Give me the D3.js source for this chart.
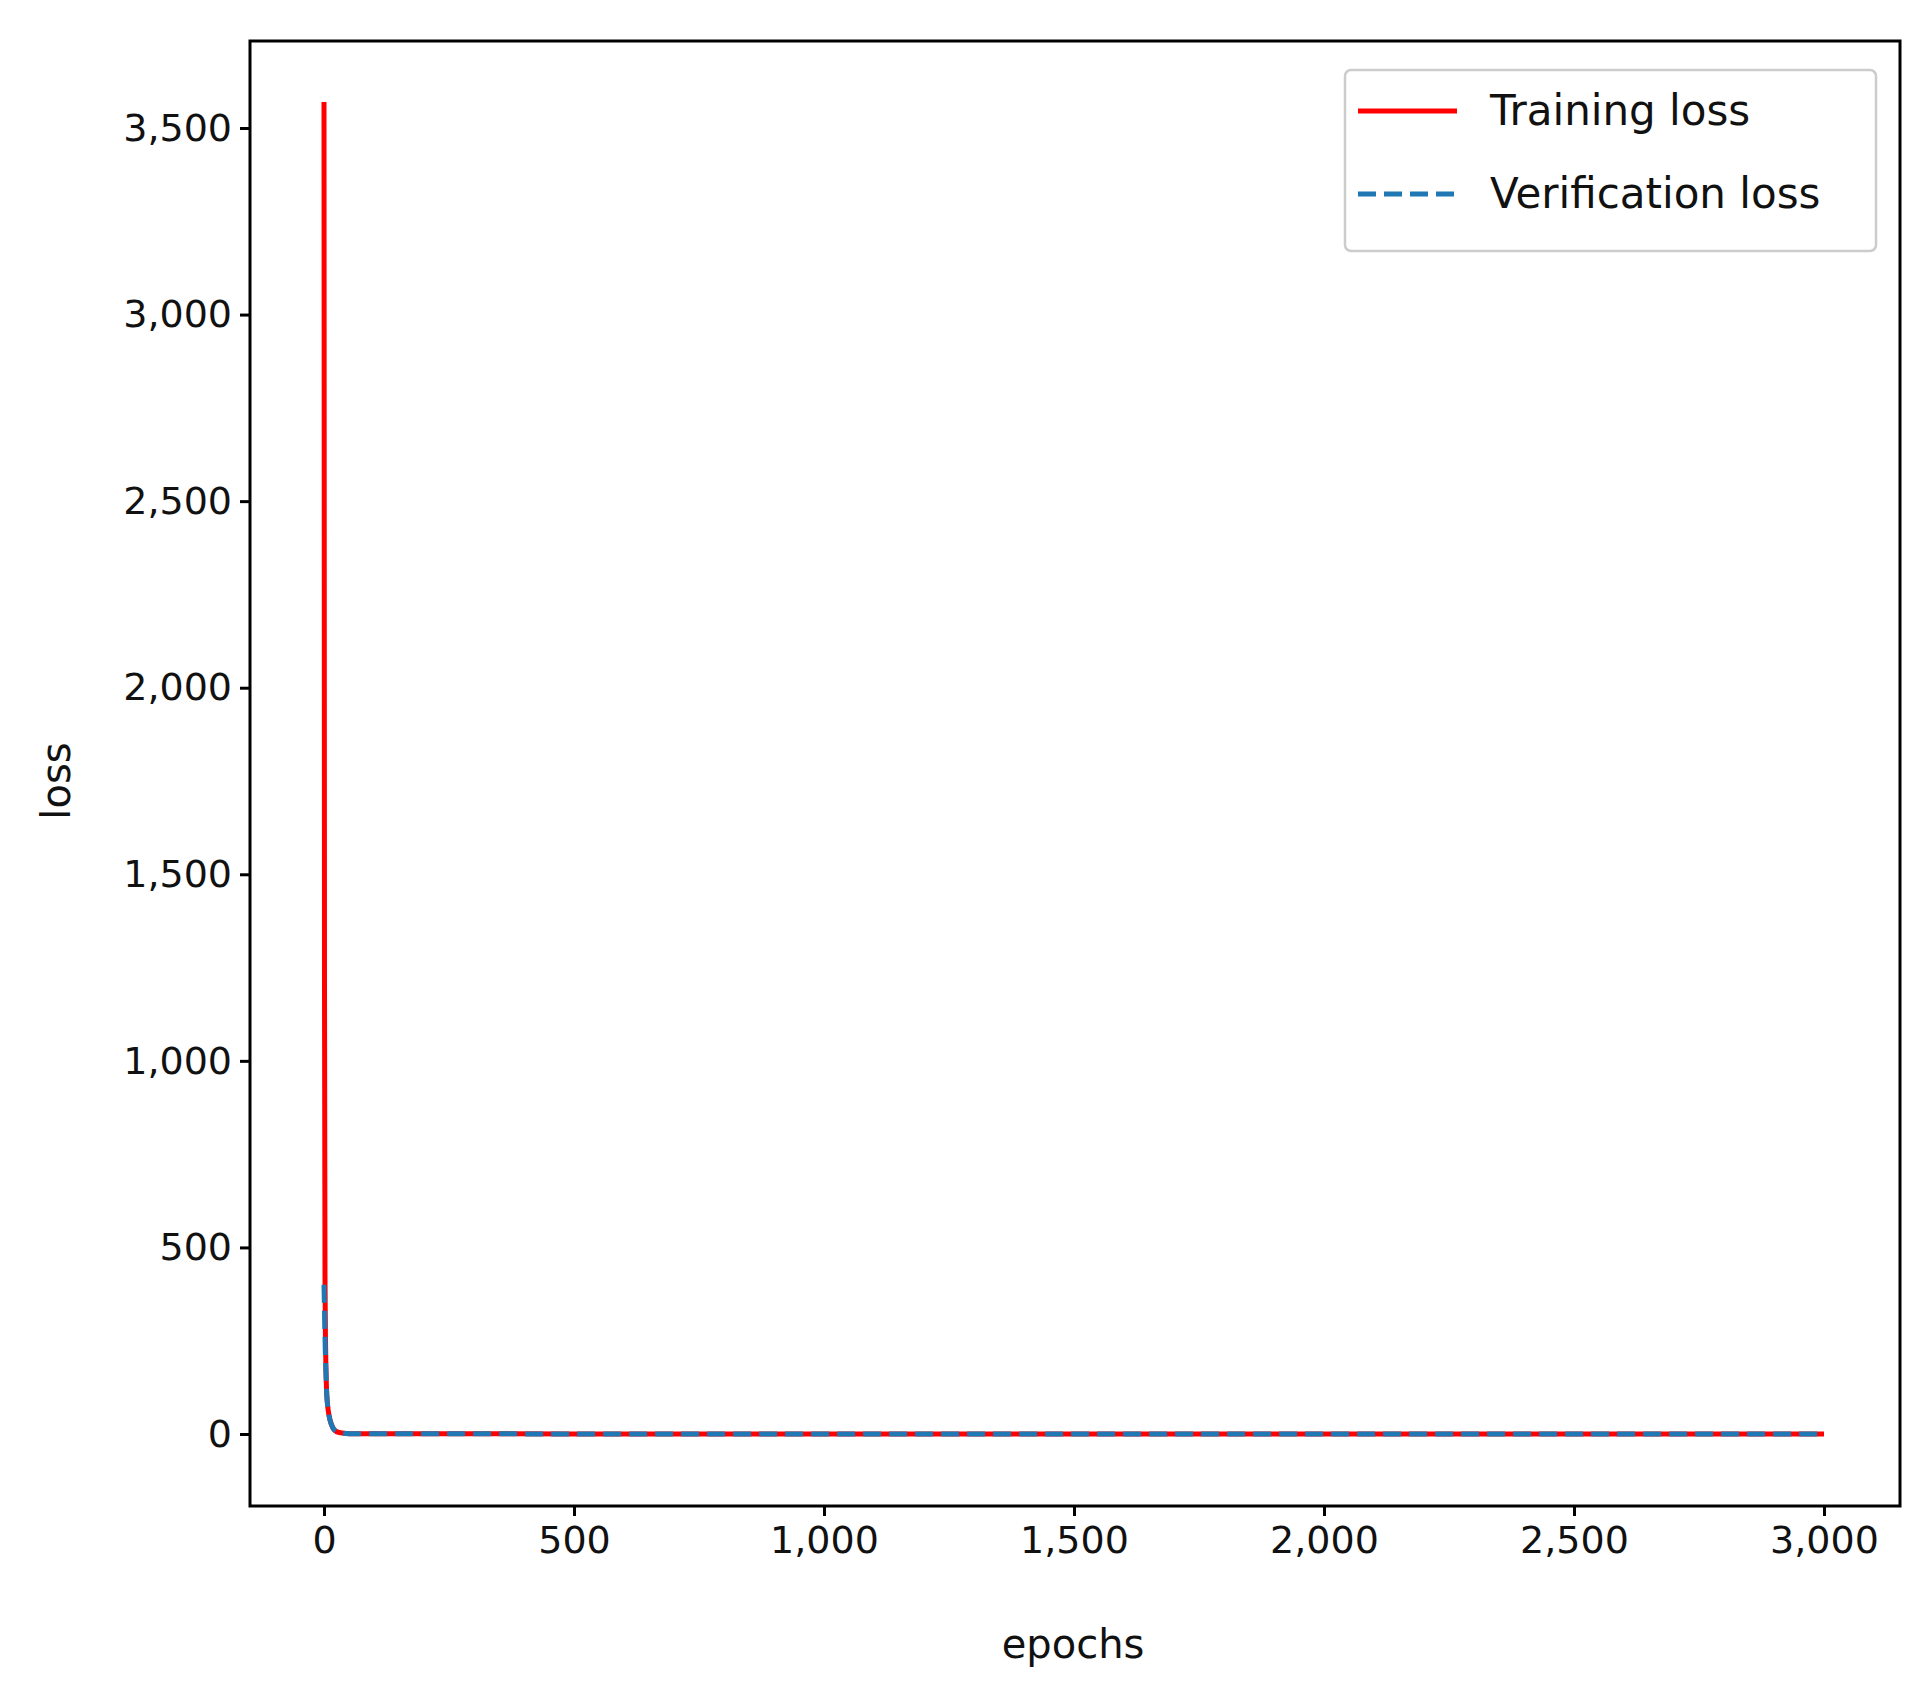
<!DOCTYPE html>
<html lang="en">
<head>
<meta charset="UTF-8">
<script src="https://d3js.org/d3.v7.min.js"></script>
<style>
  body { margin: 0; background: #fff; }
  text { font-family: "DejaVu Sans", sans-serif; fill: #111; }
</style>
</head>
<body>
<svg id="chart" width="1929" height="1694"></svg>
<script>
// data
const epochs         = [0, 1, 2, 3, 4, 5, 7, 10, 15, 20, 30, 50, 100, 500, 1000, 2000, 3000];
const trainingLoss   = [3570, 1200, 420, 250, 170, 120, 80, 50, 25, 12, 4, 1, 0.5, 0.3, 0.2, 0.2, 0.2];
const verifyLoss     = [400, 330, 260, 200, 160, 120, 80, 50, 25, 12, 4, 1, 0.5, 0.3, 0.2, 0.2, 0.2];
const xTicks = [0, 500, 1000, 1500, 2000, 2500, 3000];
const yTicks = [0, 500, 1000, 1500, 2000, 2500, 3000, 3500];

const svg = d3.select("#chart");
const plotLeft = 250, plotRight = 1900, plotTop = 41, plotBottom = 1506;

// scales fitted to the reference frame
const x = d3.scaleLinear().domain([0, 3000]).range([324, 1824]);
const y = d3.scaleLinear().domain([0, 3500]).range([1434, 128]);

// axes
const xAxis = svg.append("g").attr("transform", `translate(0,${plotBottom})`)
    .call(d3.axisBottom(x).tickValues(xTicks).tickSize(10).tickPadding(10));
const yAxis = svg.append("g").attr("transform", `translate(${plotLeft},0)`)
    .call(d3.axisLeft(y).tickValues(yTicks).tickSize(10).tickPadding(8));
[xAxis, yAxis].forEach(a => {
    a.select(".domain").remove();
    a.selectAll("line").attr("stroke", "#000").attr("stroke-width", 3);
    a.selectAll("text").style("font-size", "38px").style("font-family", "DejaVu Sans").attr("fill", "#111");
});

// lines
const line = (ys) => d3.line().x((d, i) => x(epochs[i])).y(d => y(d)).curve(d3.curveMonotoneX)(ys);
svg.append("path").attr("d", line(trainingLoss)).attr("fill", "none")
    .attr("stroke", "#ff0000").attr("stroke-width", 5);
svg.append("path").attr("d", line(verifyLoss)).attr("fill", "none")
    .attr("stroke", "#1f77b4").attr("stroke-width", 5).attr("stroke-dasharray", "18,8");

// frame
svg.append("rect").attr("x", plotLeft).attr("y", plotTop)
    .attr("width", plotRight - plotLeft).attr("height", plotBottom - plotTop)
    .attr("fill", "none").attr("stroke", "#000").attr("stroke-width", 3);

// axis labels
svg.append("text").attr("x", 1073).attr("y", 1658).attr("text-anchor", "middle")
    .style("font-size", "40px").text("epochs");
svg.append("text").attr("transform", "translate(70,781) rotate(-90)").attr("text-anchor", "middle")
    .style("font-size", "40px").text("loss");

// legend
const lg = svg.append("g");
lg.append("rect").attr("x", 1345).attr("y", 70).attr("width", 531).attr("height", 181).attr("rx", 6)
    .attr("fill", "#fff").attr("stroke", "#ccc").attr("stroke-width", 2.5);
const items = [
    {name: "Training loss", color: "#ff0000", dash: null},
    {name: "Verification loss", color: "#1f77b4", dash: "18,8"}
];
items.forEach((d, i) => {
    const cy = 111 + i * 83;
    lg.append("line").attr("x1", 1358).attr("x2", 1457).attr("y1", cy).attr("y2", cy)
        .attr("stroke", d.color).attr("stroke-width", 5).attr("stroke-dasharray", d.dash);
    lg.append("text").attr("x", 1490).attr("y", cy + 14).style("font-size", "42px").text(d.name);
});
</script>
</body>
</html>
